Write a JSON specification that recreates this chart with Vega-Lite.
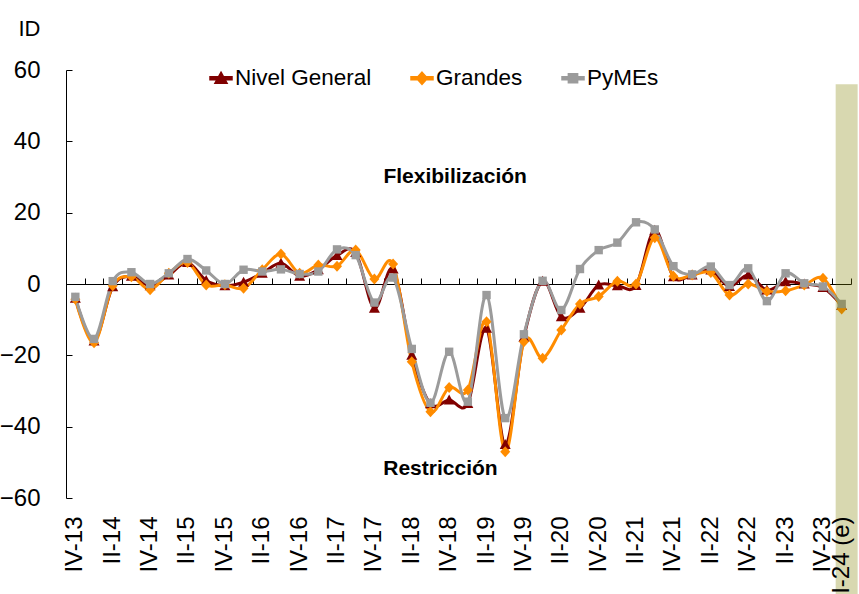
{
  "$schema": "https://vega.github.io/schema/vega-lite/v6.json",
  "width": 785,
  "height": 428,
  "autosize": {"type": "none"},
  "padding": {"left": 66, "top": 70, "right": 8, "bottom": 96},
  "config": {"view": {"stroke": null}, "font": "Liberation Sans"},
  "datasets": {
    "d": [
      {"q": "IV-13", "Nivel General": -4, "Grandes": -4.3, "PyMEs": -3.6},
      {"q": "I-14", "Nivel General": -16, "Grandes": -16.5, "PyMEs": -15.4},
      {"q": "II-14", "Nivel General": -0.8, "Grandes": -0.5, "PyMEs": 0.8},
      {"q": "III-14", "Nivel General": 2.2, "Grandes": 2, "PyMEs": 3.3},
      {"q": "IV-14", "Nivel General": -0.5, "Grandes": -1.6, "PyMEs": 0},
      {"q": "I-15", "Nivel General": 2.5, "Grandes": 3, "PyMEs": 3},
      {"q": "II-15", "Nivel General": 6, "Grandes": 6, "PyMEs": 7},
      {"q": "III-15", "Nivel General": 1, "Grandes": -0.3, "PyMEs": 3.8},
      {"q": "IV-15", "Nivel General": -0.5, "Grandes": -0.2, "PyMEs": 0},
      {"q": "I-16", "Nivel General": 0.5, "Grandes": -1.2, "PyMEs": 4},
      {"q": "II-16", "Nivel General": 3, "Grandes": 4, "PyMEs": 3.5},
      {"q": "III-16", "Nivel General": 5.8, "Grandes": 8.4, "PyMEs": 4.1},
      {"q": "IV-16", "Nivel General": 2.2, "Grandes": 3, "PyMEs": 2.8},
      {"q": "I-17", "Nivel General": 4, "Grandes": 5.3, "PyMEs": 3.5},
      {"q": "II-17", "Nivel General": 8, "Grandes": 5, "PyMEs": 9.7},
      {"q": "III-17", "Nivel General": 8.8, "Grandes": 9.5, "PyMEs": 8.1},
      {"q": "IV-17", "Nivel General": -6.8, "Grandes": 1.4, "PyMEs": -5.2},
      {"q": "I-18", "Nivel General": 4.2, "Grandes": 5.6, "PyMEs": 1.8},
      {"q": "II-18", "Nivel General": -20, "Grandes": -21.8, "PyMEs": -18.2},
      {"q": "III-18", "Nivel General": -33.6, "Grandes": -35.8, "PyMEs": -33.3},
      {"q": "IV-18", "Nivel General": -32.5, "Grandes": -29, "PyMEs": -19},
      {"q": "I-19", "Nivel General": -33.5, "Grandes": -29.7, "PyMEs": -33},
      {"q": "II-19", "Nivel General": -12.4, "Grandes": -10.6, "PyMEs": -3.1},
      {"q": "III-19", "Nivel General": -45, "Grandes": -47, "PyMEs": -37.6},
      {"q": "IV-19", "Nivel General": -14.9, "Grandes": -16.2, "PyMEs": -14.1},
      {"q": "I-20", "Nivel General": 0.8, "Grandes": -20.8, "PyMEs": 0.9},
      {"q": "II-20", "Nivel General": -9.2, "Grandes": -12.9, "PyMEs": -7.3},
      {"q": "III-20", "Nivel General": -6.8, "Grandes": -5.6, "PyMEs": 4.2},
      {"q": "IV-20", "Nivel General": -0.3, "Grandes": -3.5, "PyMEs": 9.5},
      {"q": "I-21", "Nivel General": -0.5, "Grandes": 0.8, "PyMEs": 11.6},
      {"q": "II-21", "Nivel General": -0.4, "Grandes": 0, "PyMEs": 17.3},
      {"q": "III-21", "Nivel General": 15.1, "Grandes": 13, "PyMEs": 15.3},
      {"q": "IV-21", "Nivel General": 2, "Grandes": 2.2, "PyMEs": 5},
      {"q": "I-22", "Nivel General": 2.5, "Grandes": 2.5, "PyMEs": 2.7},
      {"q": "II-22", "Nivel General": 3.9, "Grandes": 3.2, "PyMEs": 4.9},
      {"q": "III-22", "Nivel General": -0.7, "Grandes": -3.1, "PyMEs": -0.3},
      {"q": "IV-22", "Nivel General": 2.5, "Grandes": 0, "PyMEs": 4.4},
      {"q": "I-23", "Nivel General": -1.7, "Grandes": -2.1, "PyMEs": -4.8},
      {"q": "II-23", "Nivel General": 0.6, "Grandes": -1.9, "PyMEs": 3},
      {"q": "III-23", "Nivel General": 0, "Grandes": -0.3, "PyMEs": 0.2},
      {"q": "IV-23", "Nivel General": -1, "Grandes": 1.6, "PyMEs": -0.7},
      {"q": "I-24 (e)", "Nivel General": -6, "Grandes": -7, "PyMEs": -5.6}
    ]
  },
  "resolve": {"axis": {"x": "independent"}},
  "layer": [
    {
      "data": {"name": "d"},
      "transform": [{"fold": ["Nivel General", "Grandes", "PyMEs"], "as": ["serie", "v"]}],
      "mark": {"type": "line", "interpolate": "cardinal", "strokeWidth": 3},
      "encoding": {
        "x": {
          "field": "q", "type": "ordinal", "bandPosition": 0.5,
          "scale": {"type": "band", "paddingInner": 0, "paddingOuter": 0,
            "domain": ["IV-13","I-14","II-14","III-14","IV-14","I-15","II-15","III-15","IV-15","I-16","II-16","III-16","IV-16","I-17","II-17","III-17","IV-17","I-18","II-18","III-18","IV-18","I-19","II-19","III-19","IV-19","I-20","II-20","III-20","IV-20","I-21","II-21","III-21","IV-21","I-22","II-22","III-22","IV-22","I-23","II-23","III-23","IV-23","I-24 (e)"]},
          "axis": {
            "orient": "bottom", "title": null, "domain": false, "ticks": false,
            "labelAngle": -90, "labelAlign": "right", "labelBaseline": "middle",
            "labelPadding": 18, "labelFontSize": 24, "labelColor": "#000000",
            "labelOverlap": false, "zindex": 2,
            "labelExpr": "((indexof(datum.value,'I-')==0 && datum.value!='I-24 (e)') || indexof(datum.value,'III-')==0) ? '' : datum.value"
          }
        },
        "y": {
          "field": "v", "type": "quantitative",
          "scale": {"domain": [-60, 60], "nice": false, "zero": false},
          "axis": {
            "values": [-60, -40, -20, 0, 20, 40, 60], "grid": false,
            "domainColor": "#000000", "tickColor": "#000000", "tickSize": -6,
            "labelPadding": 32, "labelFontSize": 24, "labelColor": "#000000",
            "title": "ID", "titleAngle": 0, "titleX": -48, "titleY": -42,
            "titleAlign": "left", "titleBaseline": "middle",
            "titleFontSize": 22, "titleFontWeight": "normal", "titleColor": "#000000"
          }
        },
        "color": {
          "field": "serie", "type": "nominal",
          "scale": {"domain": ["Nivel General", "Grandes", "PyMEs"], "range": ["#800000", "#ff8c00", "#9b9b9b"]},
          "legend": {
            "title": null, "orient": "none", "legendX": 143, "legendY": -4,
            "direction": "horizontal", "columns": 3, "columnPadding": 36,
            "labelFontSize": 22.5, "labelColor": "#000000", "labelOffset": 2,
            "symbolSize": 484,
            "encode": {
              "symbols": {
                "update": {
                  "shape": {"signal": "datum.value === 'Nivel General' ? 'M-1,-0.13H1V0.13H-1ZM0,-0.55L0.55,0.45L-0.55,0.45Z' : datum.value === 'Grandes' ? 'M-1,-0.13H1V0.13H-1ZM0,-0.55L0.5,0L0,0.55L-0.5,0Z' : 'M-1,-0.13H1V0.13H-1ZM-0.42,-0.42H0.42V0.42H-0.42Z'"},
                  "fill": {"signal": "scale('color', datum.value)"},
                  "stroke": {"value": "transparent"},
                  "opacity": {"value": 1},
                  "fillOpacity": {"value": 1}
                }
              }
            }
          }
        }
      }
    },
    {
      "data": {"name": "d"},
      "transform": [{"fold": ["Nivel General", "Grandes", "PyMEs"], "as": ["serie", "v"]}],
      "mark": {"type": "point", "filled": true, "opacity": 1, "size": 400},
      "encoding": {
        "x": {
          "field": "q", "type": "ordinal", "bandPosition": 0.5,
          "scale": {"type": "band", "paddingInner": 0, "paddingOuter": 0,
            "domain": ["IV-13","I-14","II-14","III-14","IV-14","I-15","II-15","III-15","IV-15","I-16","II-16","III-16","IV-16","I-17","II-17","III-17","IV-17","I-18","II-18","III-18","IV-18","I-19","II-19","III-19","IV-19","I-20","II-20","III-20","IV-20","I-21","II-21","III-21","IV-21","I-22","II-22","III-22","IV-22","I-23","II-23","III-23","IV-23","I-24 (e)"]},
          "axis": {
            "orient": "top", "offset": -214, "title": null, "labels": false,
            "domain": true, "domainColor": "#000000", "domainWidth": 1.2,
            "ticks": true, "tickSize": 6, "tickColor": "#000000", "tickBand": "extent",
            "zindex": 0
          }
        },
        "y": {"field": "v", "type": "quantitative"},
        "color": {"field": "serie", "type": "nominal"},
        "shape": {
          "condition": [
            {"test": "datum.serie === 'Nivel General'", "value": "M0,-0.55L0.55,0.45L-0.55,0.45Z"},
            {"test": "datum.serie === 'Grandes'", "value": "M0,-0.55L0.5,0L0,0.55L-0.5,0Z"}
          ],
          "value": "M-0.42,-0.42H0.42V0.42H-0.42Z"
        }
      }
    },
    {
      "data": {"values": [{"q": "IV-18", "v": 30, "t": "Flexibilización"}]},
      "mark": {"type": "text", "fontSize": 21, "fontWeight": "bold", "color": "#000000", "dx": 6, "baseline": "middle"},
      "encoding": {
        "x": {"field": "q", "type": "ordinal", "bandPosition": 0.5, "axis": null,
          "scale": {"type": "band", "paddingInner": 0, "paddingOuter": 0,
            "domain": ["IV-13","I-14","II-14","III-14","IV-14","I-15","II-15","III-15","IV-15","I-16","II-16","III-16","IV-16","I-17","II-17","III-17","IV-17","I-18","II-18","III-18","IV-18","I-19","II-19","III-19","IV-19","I-20","II-20","III-20","IV-20","I-21","II-21","III-21","IV-21","I-22","II-22","III-22","IV-22","I-23","II-23","III-23","IV-23","I-24 (e)"]}},
        "y": {"field": "v", "type": "quantitative"},
        "text": {"field": "t"}
      }
    },
    {
      "data": {"values": [{"q": "III-18", "v": -52, "t": "Restricción"}]},
      "mark": {"type": "text", "fontSize": 21, "fontWeight": "bold", "color": "#000000", "dx": 10, "baseline": "middle"},
      "encoding": {
        "x": {"field": "q", "type": "ordinal", "bandPosition": 0.5, "axis": null,
          "scale": {"type": "band", "paddingInner": 0, "paddingOuter": 0,
            "domain": ["IV-13","I-14","II-14","III-14","IV-14","I-15","II-15","III-15","IV-15","I-16","II-16","III-16","IV-16","I-17","II-17","III-17","IV-17","I-18","II-18","III-18","IV-18","I-19","II-19","III-19","IV-19","I-20","II-20","III-20","IV-20","I-21","II-21","III-21","IV-21","I-22","II-22","III-22","IV-22","I-23","II-23","III-23","IV-23","I-24 (e)"]}},
        "y": {"field": "v", "type": "quantitative"},
        "text": {"field": "t"}
      }
    },
    {
      "data": {"values": [{"q": "I-24 (e)", "top": 56, "bottom": -87}]},
      "mark": {"type": "rect", "color": "#808000", "opacity": 0.31, "xOffset": 5, "width": 22},
      "encoding": {
        "x": {"field": "q", "type": "ordinal", "axis": null,
          "scale": {"type": "band", "paddingInner": 0, "paddingOuter": 0,
            "domain": ["IV-13","I-14","II-14","III-14","IV-14","I-15","II-15","III-15","IV-15","I-16","II-16","III-16","IV-16","I-17","II-17","III-17","IV-17","I-18","II-18","III-18","IV-18","I-19","II-19","III-19","IV-19","I-20","II-20","III-20","IV-20","I-21","II-21","III-21","IV-21","I-22","II-22","III-22","IV-22","I-23","II-23","III-23","IV-23","I-24 (e)"]}},
        "y": {"field": "top", "type": "quantitative"},
        "y2": {"field": "bottom"}
      }
    }
  ]
}
